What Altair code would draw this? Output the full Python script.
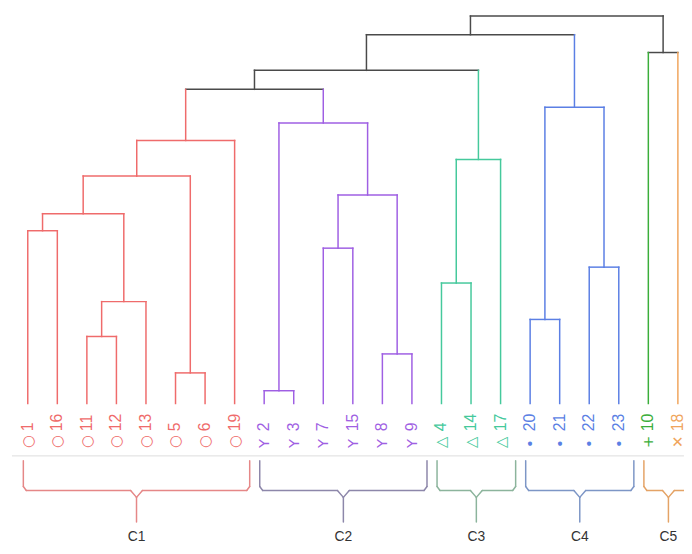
import altair as alt
import pandas as pd

# ---- data ----
leaf_ids = [1, 16, 11, 12, 13, 5, 6, 19, 2, 3, 7, 15, 8, 9, 4, 14, 17, 20, 21, 22, 23, 10, 18]
leaf_tree_group = ["C1"] * 8 + ["C2"] * 6 + ["C3"] * 3 + ["C4"] * 4 + ["C5a", "C5b"]
leaf_cluster = ["C1"] * 8 + ["C2"] * 6 + ["C3"] * 3 + ["C4"] * 4 + ["C5"] * 2

# merges (scipy-like): children are "L<id>" for leaves or "M<k>" for earlier merges
merge_left = ["L2", "L5", "L8", "L11", "L20", "M3", "L4", "L22", "L7", "L1", "M9",
              "M8", "M10", "M6", "M12", "M0", "M4", "M14", "M17", "L10", "M18", "M20"]
merge_right = ["L3", "L6", "L9", "L12", "L21", "L13", "L14", "L23", "L15", "L16", "M5",
               "M2", "M1", "L17", "L19", "M11", "M7", "M15", "M13", "L18", "M16", "M19"]
merge_height = [0.33, 0.79, 1.28, 1.73, 2.17, 2.63, 3.11, 3.52, 4.01, 4.46, 4.90,
                5.38, 5.87, 6.30, 6.79, 7.24, 7.65, 8.11, 8.60, 9.06, 9.52, 10.0]

symbols = {"C1": "○", "C2": "Y", "C3": "△", "C4": "•", "C5a": "+", "C5b": "✕"}
tree_colors = {"C1": "#ef6b6b", "C2": "#9f5fe3", "C3": "#45c99c", "C4": "#5b7fe4",
               "C5a": "#3aae3a", "C5b": "#f0a55c", "none": "#4a4a4a"}
cluster_names = ["C1", "C2", "C3", "C4", "C5"]
brace_colors = {"C1": "#e58787", "C2": "#8d87aa", "C3": "#8cb49c", "C4": "#7d96c6", "C5": "#e4a366"}

# ---- build dendrogram segments ----
pos = {}
hgt = {}
grp = {}
for i, (lid, g) in enumerate(zip(leaf_ids, leaf_tree_group)):
    pos[f"L{lid}"] = float(i)
    hgt[f"L{lid}"] = 0.0
    grp[f"L{lid}"] = g

segs = []
for k, (a, b, h) in enumerate(zip(merge_left, merge_right, merge_height)):
    name = f"M{k}"
    pos[name] = (pos[a] + pos[b]) / 2
    hgt[name] = h
    grp[name] = grp[a] if grp[a] == grp[b] else "none"
    segs.append(dict(x=pos[a], x2=pos[b], y=h, y2=h, col=tree_colors[grp[name]]))
    for c in (a, b):
        segs.append(dict(x=pos[c], x2=pos[c], y=h, y2=hgt[c], col=tree_colors[grp[c]]))
seg_df = pd.DataFrame(segs)

labels_df = pd.DataFrame({
    "x": list(range(len(leaf_ids))),
    "sym": [symbols[g] for g in leaf_tree_group],
    "num": [str(lid) for lid in leaf_ids],
    "col": [tree_colors[g] for g in leaf_tree_group],
})

# ---- braces under the clusters ----
brace_rows = []
cl_rows = []
shift = 0.18
for c in cluster_names:
    idx = [i for i, cc in enumerate(leaf_cluster) if cc == c]
    s, e = idx[0] - 0.33 + shift, idx[-1] + 0.33 + shift
    m = (s + e) / 2
    col = brace_colors[c]
    pts = [(s, 455, s, 481), (s, 481, s + 0.1, 485), (s + 0.1, 485, m - 0.2, 485),
           (m - 0.2, 485, m, 492), (m, 492, m, 517), (m, 492, m + 0.2, 485),
           (m + 0.2, 485, e - 0.1, 485), (e - 0.1, 485, e, 481), (e, 481, e, 455)]
    for (xa, ya, xb, yb) in pts:
        brace_rows.append(dict(x=xa, x2=xb, py=ya, py2=yb, col=col))
    cl_rows.append(dict(x=m, name=c))
brace_df = pd.DataFrame(brace_rows)
cl_df = pd.DataFrame(cl_rows)

W, H = 684, 538
xs = alt.Scale(domain=[-0.669, 22.207])
ys = alt.Scale(domain=[-3.597, 10.128])

tree = alt.Chart(seg_df).mark_rule(strokeWidth=1.5, strokeCap="square").encode(
    x=alt.X("x:Q", scale=xs, axis=None),
    x2="x2:Q",
    y=alt.Y("y:Q", scale=ys, axis=None),
    y2="y2:Q",
    color=alt.Color("col:N", scale=None),
)

sym_text = alt.Chart(labels_df).mark_text(
    angle=270, align="left", baseline="middle", fontSize=15, font="DejaVu Sans"
).encode(
    x=alt.X("x:Q", scale=xs, axis=None),
    y=alt.value(442),
    text="sym:N",
    color=alt.Color("col:N", scale=None),
)

num_text = alt.Chart(labels_df).mark_text(
    angle=270, align="left", baseline="middle", fontSize=16, font="Liberation Sans"
).encode(
    x=alt.X("x:Q", scale=xs, axis=None),
    y=alt.value(425),
    text="num:N",
    color=alt.Color("col:N", scale=None),
)

baseline = alt.Chart(pd.DataFrame({"a": [0]})).mark_rule(color="#dedede", strokeWidth=1).encode(
    x=alt.value(4), x2=alt.value(W), y=alt.value(450)
)

braces = alt.Chart(brace_df).mark_rule(strokeWidth=1.5, strokeCap="round").encode(
    x=alt.X("x:Q", scale=xs, axis=None),
    x2="x2:Q",
    y=alt.Y("py:Q", scale=None, axis=None),
    y2="py2:Q",
    color=alt.Color("col:N", scale=None),
)

cl_text = alt.Chart(cl_df).mark_text(fontSize=14, color="#333333", font="Liberation Sans",
                                      baseline="middle").encode(
    x=alt.X("x:Q", scale=xs, axis=None),
    y=alt.value(532),
    text="name:N",
)

chart = alt.layer(tree, sym_text, num_text, baseline, braces, cl_text).properties(
    width=W, height=H, padding=0, autosize=alt.AutoSizeParams(type="none")
).configure_view(stroke=None)

chart.save("out.html", embed_options={"renderer": "svg", "actions": False})
